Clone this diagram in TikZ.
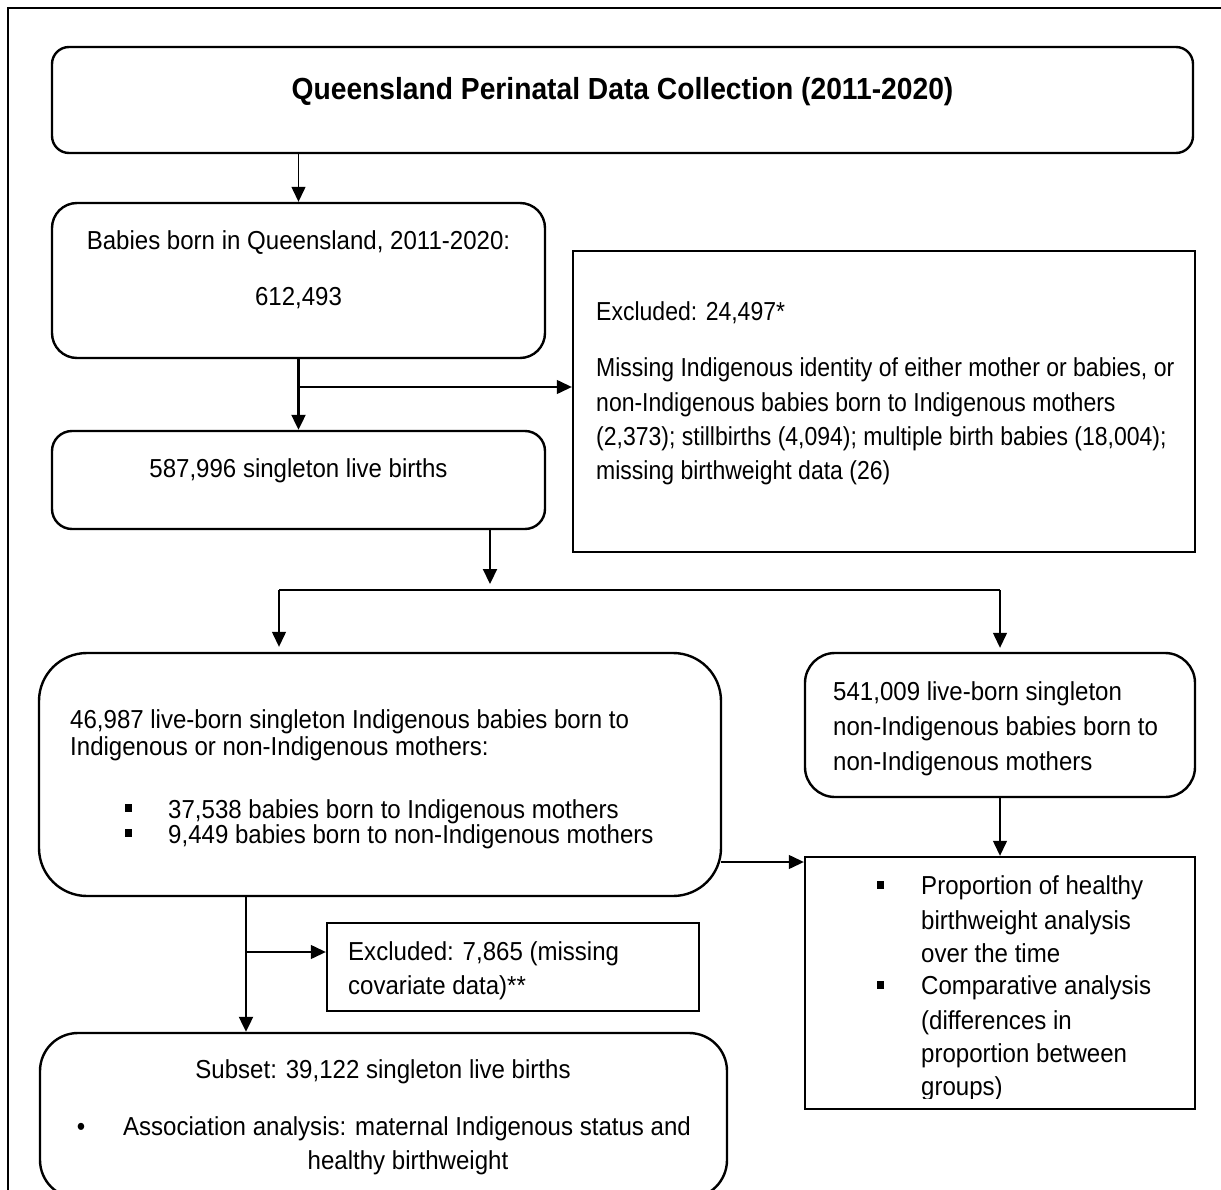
\documentclass[tikz,border=0pt]{standalone}
\usepackage{fontspec}
\setmainfont[FakeStretch=0.925]{Liberation Sans}
\newfontfamily\exfont[FakeStretch=0.885]{Liberation Sans}
\usetikzlibrary{arrows.meta}
\begin{document}
\begin{tikzpicture}[x=1pt,y=-1pt,
  box/.style={draw, line width=2.4pt, inner sep=0pt},
  conn/.style={line width=1.3pt},
  arr/.style={line width=1.3pt, -{Triangle[length=15pt,width=14pt]}},
  thickarr/.style={line width=2.2pt, -{Triangle[length=15pt,width=14pt]}},
  txt/.style={inner sep=0pt, font=\fontsize{26}{30}\selectfont},
  extxt/.style={inner sep=0pt, font=\fontsize{26}{30}\selectfont\exfont},
  ttl/.style={inner sep=0pt, font=\fontsize{30.5}{34}\selectfont\bfseries},
  sqbul/.style={inner sep=0pt, fill=black, minimum width=7pt, minimum height=8pt}]
\useasboundingbox (0,0) rectangle (1221,1190);
\clip (0,0) rectangle (1221,1190);
% outer frame
\draw[line width=2pt] (8,8) rectangle (1240,1210);

% boxes
\node[box, rounded corners=17pt, minimum width=1141pt, minimum height=106pt] (title) at (622.5,100) {};
\node[box, rounded corners=25pt, minimum width=493pt, minimum height=155pt] (box2) at (298.5,280.5) {};
\node[box, rounded corners=20pt, minimum width=493pt, minimum height=98pt] (box3) at (298.5,480) {};
\node[box, minimum width=622pt, minimum height=301pt] (excl) at (884,401.5) {};
\node[box, rounded corners=48pt, minimum width=682pt, minimum height=243pt] (box4) at (380,774.5) {};
\node[box, rounded corners=30pt, minimum width=390pt, minimum height=144pt] (box5) at (1000,725) {};
\node[box, minimum width=390pt, minimum height=252pt] (box6) at (1000,983) {};
\node[box, minimum width=372pt, minimum height=88pt] (box8) at (513,967) {};
\node[box, rounded corners=38pt, minimum width=687pt, minimum height=165pt] (box7) at (383.5,1115.5) {};

% texts
\node[ttl, anchor=base] (t0) at (622.5,100) {Queensland Perinatal Data Collection (2011-2020)};
\node[txt, anchor=base] (t2a) at (298.5,250) {Babies born in Queensland, 2011-2020:};
\node[txt, anchor=base] (t2b) at (298.5,306) {612,493};
\node[txt, anchor=base] (t3) at (298.5,477) {587,996 singleton live births};

\node[extxt, anchor=base west] (te1) at (596,320) {Excluded: 24,497*};
\node[extxt, anchor=base west] (te2) at (596,377) {Missing Indigenous identity of either mother or babies, or};
\node[extxt, anchor=base west] (te3) at (596,411) {non-Indigenous babies born to Indigenous mothers};
\node[extxt, anchor=base west] (te4) at (596,445) {(2,373); stillbirths (4,094); multiple birth babies (18,004);};
\node[extxt, anchor=base west] (te5) at (596,479) {missing birthweight data (26)};

\node[txt, anchor=base west] (t4a) at (70,728) {46,987 live-born singleton Indigenous babies born to};
\node[txt, anchor=base west] (t4b) at (70,755) {Indigenous or non-Indigenous mothers:};
\node[sqbul, anchor=south west] (b4a) at (125,812) {};
\node[txt, anchor=base west] (t4c) at (168,818) {37,538 babies born to Indigenous mothers};
\node[sqbul, anchor=south west] (b4b) at (125,837) {};
\node[txt, anchor=base west] (t4d) at (168,843) {9,449 babies born to non-Indigenous mothers};

\node[txt, anchor=base west] (t5a) at (833,700) {541,009 live-born singleton};
\node[txt, anchor=base west] (t5b) at (833,735) {non-Indigenous babies born to};
\node[txt, anchor=base west] (t5c) at (833,770) {non-Indigenous mothers};

\begin{scope}
\clip (805,857) rectangle (1195,1098);
\node[sqbul, anchor=south west] (b6a) at (877,889) {};
\node[txt, anchor=base west] (t6a) at (921,894) {Proportion of healthy};
\node[txt, anchor=base west] (t6b) at (921,929) {birthweight analysis};
\node[txt, anchor=base west] (t6c) at (921,962) {over the time};
\node[sqbul, anchor=south west] (b6b) at (877,989) {};
\node[txt, anchor=base west] (t6d) at (921,994) {Comparative analysis};
\node[txt, anchor=base west] (t6e) at (921,1029) {(differences in};
\node[txt, anchor=base west] (t6f) at (921,1062) {proportion between};
\node[txt, anchor=base west] (t6g) at (921,1095) {groups)};
\end{scope}

\node[txt, anchor=base west] (t8a) at (348,960) {Excluded: 7,865 (missing};
\node[txt, anchor=base west] (t8b) at (348,994) {covariate data)**};

\node[txt, anchor=base] (t7a) at (383,1078) {Subset: 39,122 singleton live births};
\node[txt, anchor=base] (t7b) at (81,1135) {•};
\node[txt, anchor=base] (t7c) at (407,1135) {Association analysis: maternal Indigenous status and};
\node[txt, anchor=base] (t7d) at (408,1169) {healthy birthweight};

% connectors
\coordinate (j1) at (298.5,387);
\coordinate (s1) at (490,584);
\coordinate (hl) at (279,590);
\coordinate (hr) at (1000,590);
\coordinate (m1) at (721,862);
\coordinate (v1) at (246,952);

\draw[arr] (box2.north |- title.south) -- (box2.north);
\draw[thickarr] (box2.south) -- (box3.north);
\draw[arr] (j1) -- (j1 -| excl.west);
\draw[thickarr] (s1 |- box3.south) -- (s1);
\draw[conn] (hl) -- (hr);
\draw[arr, shorten >=5pt] (hl) -- (hl |- box4.north);
\draw[arr, shorten >=4pt] (hr) -- (box5.north);
\draw[arr] (box5.south) -- (box6.north);
\draw[arr] (m1) -- (m1 -| box6.west);
\draw[thickarr] (v1 |- box4.south) -- (v1 |- box7.north);
\draw[arr] (v1) -- (v1 -| box8.west);
\end{tikzpicture}
\end{document}
